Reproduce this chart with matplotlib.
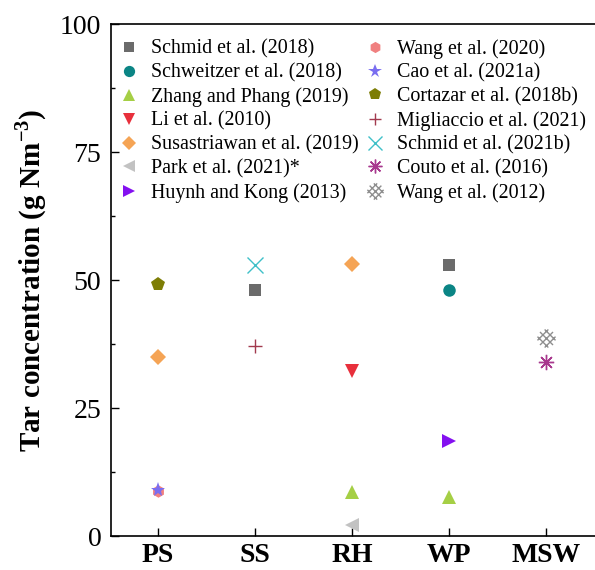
import numpy as np
import matplotlib
matplotlib.use('Agg')
import matplotlib.pyplot as plt
from matplotlib.path import Path
from matplotlib.ticker import MultipleLocator

plt.rcParams['font.family'] = ['Liberation Serif', 'DejaVu Serif']
plt.rcParams['mathtext.fontset'] = 'custom'
plt.rcParams['mathtext.rm'] = 'Liberation Serif'
plt.rcParams['mathtext.bf'] = 'Liberation Serif:bold'

feedstocks = ['PS', 'SS', 'RH', 'WP', 'MSW']

studies = ['Schmid et al. (2018)', 'Schweitzer et al. (2018)', 'Zhang and Phang (2019)',
           'Li et al. (2010)', 'Susastriawan et al. (2019)', 'Park et al. (2021)*',
           'Huynh and Kong (2013)', 'Wang et al. (2020)', 'Cao et al. (2021a)',
           'Cortazar et al. (2018b)', 'Migliaccio et al. (2021)', 'Schmid et al. (2021b)',
           'Couto et al. (2016)', 'Wang et al. (2012)']

# feedstock of each point and tar value, per study
study_x = [['SS', 'WP'], ['WP'], ['RH', 'WP'], ['RH'], ['PS', 'RH'], ['RH'], ['WP'],
           ['PS'], ['PS'], ['PS'], ['SS'], ['SS'], ['MSW'], ['MSW']]
study_y = [[48.0, 53.0], [48.0], [8.5, 7.7], [32.2], [35.0, 53.2], [2.2], [18.6],
           [8.7], [9.0], [49.2], [37.2], [53.0], [34.0], [38.7]]


def hatch_marker():
    verts, codes = [], []
    for d in (-0.55, 0.0, 0.55):
        for u, n in (((1, 1), (1, -1)), ((1, -1), (1, 1))):
            u = np.array(u) / np.sqrt(2)
            n = np.array(n) / np.sqrt(2)
            h = np.sqrt(1 - d ** 2)
            c = d * n
            verts += [tuple(c - h * u), tuple(c + h * u)]
            codes += [Path.MOVETO, Path.LINETO]
    return Path(verts, codes)


markers = ['s', 'o', '^', 'v', 'D', '<', '>', 'h', '*', 'p', '+', 'x', (8, 2, 0), hatch_marker()]
colors = ['#6b6b6b', '#0b8585', '#a5cf45', '#e8303c', '#f5a455', '#c2c2c2', '#8410f0',
          '#f08080', '#7a6ef0', '#7d7d05', '#a23a4e', '#3fc0c8', '#a8388e', '#8f8f8f']
sizes = [8, 9, 10, 10, 8, 10, 10, 9, 11, 10, 10, 11, 11, 13]
filled = [True] * 10 + [False] * 4

fig = plt.figure(figsize=(5.95, 5.70), dpi=100)
ax = fig.add_axes([111 / 595, 34 / 570, 1 - 111 / 595, 512 / 570])

for name, xs, ys, m, c, s, f in zip(studies, study_x, study_y, markers, colors, sizes, filled):
    xi = [feedstocks.index(x) for x in xs]
    if f:
        ax.plot(xi, ys, linestyle='none', marker=m, ms=s, color=c, markeredgewidth=0, label=name)
    else:
        ax.plot(xi, ys, linestyle='none', marker=m, ms=s, color=c, markeredgewidth=1.0,
                fillstyle='none', label=name)

ax.set_xlim(-0.48, 4.5)
ax.set_ylim(0, 100)
ax.set_xticks(range(len(feedstocks)))
ax.set_xticklabels(feedstocks, fontsize=20, fontweight='bold')
ax.yaxis.set_major_locator(MultipleLocator(25))
ax.yaxis.set_minor_locator(MultipleLocator(12.5))
ax.tick_params(axis='y', which='both', direction='in', labelsize=20, width=1.0)
ax.tick_params(axis='y', which='major', length=6, pad=7)
ax.tick_params(axis='y', which='minor', length=3)
ax.tick_params(axis='x', direction='in', length=6, width=1.0, pad=5)
ax.spines['right'].set_visible(False)
for sp in ('left', 'bottom', 'top'):
    ax.spines[sp].set_linewidth(1.2)

ax.set_ylabel('Tar concentration (g Nm$^{\\mathbf{-3}}$)', fontsize=21, fontweight='bold', labelpad=8)

ax.legend(ncol=2, loc='upper left', bbox_to_anchor=(-0.014, 1.0), frameon=False, fontsize=14.4,
          handlelength=1.0, handletextpad=0.6, columnspacing=0.3, labelspacing=0.23,
          borderaxespad=0.35, markerscale=0.9)

fig.savefig('out.png', dpi=100)
